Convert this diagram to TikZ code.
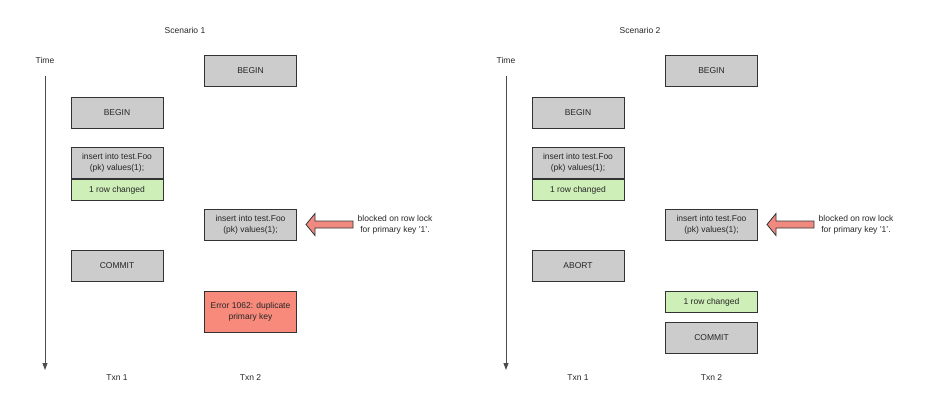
\documentclass[tikz,border=0pt]{standalone}
\usepackage{fontspec}
\setmainfont{Liberation Sans}
\usetikzlibrary{arrows.meta}
\definecolor{boxgray}{HTML}{CCCCCC}
\definecolor{boxgreen}{HTML}{CFEFB8}
\definecolor{boxred}{HTML}{F88A7C}
\definecolor{arrred}{HTML}{F08A80}
\definecolor{edge}{HTML}{333333}
\begin{document}
\begin{tikzpicture}[x=1pt,y=-1pt,
  box/.style={draw=edge, line width=0.9pt, fill=boxgray, minimum width=92pt, inner sep=0pt,
    font=\fontsize{8.5}{10.7}\selectfont, align=center, text=black!85},
  tall/.style={box, minimum height=31pt},
  short/.style={box, minimum height=21pt},
  lbl/.style={font=\fontsize{8.5}{10.7}\selectfont, text=black!85, align=center},
  axis/.style={draw=black!70, line width=0.8pt, -{Triangle[length=7pt,width=5pt]}},
  blk/.style={draw=black!80, line width=0.8pt, fill=arrred}]
\useasboundingbox (0,0) rectangle (942,420);
% ---------- Scenario 1
\node[lbl] (s1) at (185,30) {Scenario 1};
\node[lbl] (t1) at (45,60) {Time};
\coordinate (ta1) at (45,76);
\coordinate (tb1) at (45,370);
\draw[axis] (ta1) -- (tb1);
\node[tall] (b2s1) at (250.5,71) {BEGIN};
\node[tall] (b1s1) at (117,112.5) {BEGIN};
\node[tall] (i1s1) at (117,163) {insert into test.Foo\\(pk) values(1);};
\node[short, fill=boxgreen, anchor=north] (r1s1) at (i1s1.south) {1 row changed};
\node[tall] (i2s1) at (250.5,224.5) {insert into test.Foo\\(pk) values(1);};
\node[tall] (c1s1) at (117,265.5) {COMMIT};
\node[box, fill=boxred, minimum height=41pt] (e2s1) at (250.5,311.5) {Error 1062: duplicate\\primary key};
\node[lbl] (n1s1) at (117,378) {Txn 1};
\node[lbl] (n2s1) at (250.5,378) {Txn 2};
\node[lbl] (k1) at (395,224.5) {blocked on row lock\\for primary key '1'.};
\coordinate (ar1) at (306,224.5);
\draw[blk] (ar1) -- ++(9,-11) -- ++(0,7.5) -- ++(38,0) -- ++(0,7) -- ++(-38,0) -- ++(0,7.5) -- cycle;
% ---------- Scenario 2
\node[lbl] (s2) at (640,30) {Scenario 2};
\node[lbl] (t2) at (506,60) {Time};
\coordinate (ta2) at (506,76);
\coordinate (tb2) at (506,370);
\draw[axis] (ta2) -- (tb2);
\node[tall] (b2s2) at (711.5,71) {BEGIN};
\node[tall] (b1s2) at (578,112.5) {BEGIN};
\node[tall] (i1s2) at (578,163) {insert into test.Foo\\(pk) values(1);};
\node[short, fill=boxgreen, anchor=north] (r1s2) at (i1s2.south) {1 row changed};
\node[tall] (i2s2) at (711.5,224.5) {insert into test.Foo\\(pk) values(1);};
\node[tall] (a1s2) at (578,265.5) {ABORT};
\node[short, fill=boxgreen] (r2s2) at (711.5,302) {1 row changed};
\node[tall] (c2s2) at (711.5,337.5) {COMMIT};
\node[lbl] (n1s2) at (578,378) {Txn 1};
\node[lbl] (n2s2) at (711.5,378) {Txn 2};
\node[lbl] (k2) at (856,224.5) {blocked on row lock\\for primary key '1'.};
\coordinate (ar2) at (767,224.5);
\draw[blk] (ar2) -- ++(9,-11) -- ++(0,7.5) -- ++(38,0) -- ++(0,7) -- ++(-38,0) -- ++(0,7.5) -- cycle;
\end{tikzpicture}
\end{document}
